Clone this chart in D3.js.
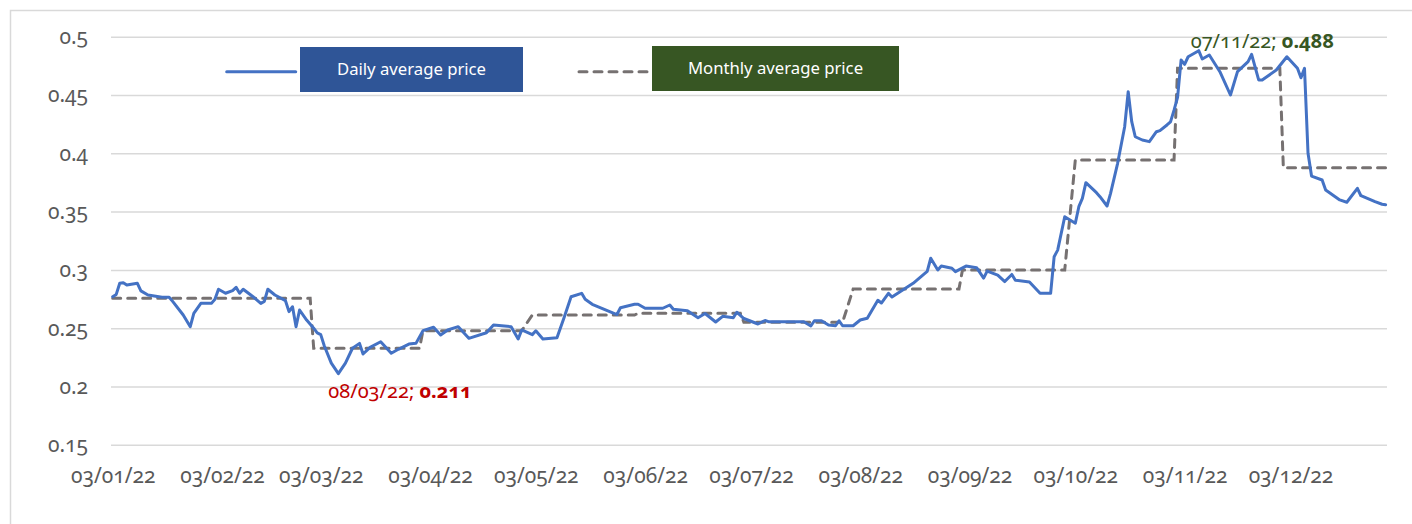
<!DOCTYPE html>
<html>
<head>
<meta charset="utf-8">
<script src="https://cdn.jsdelivr.net/npm/d3@7"></script>
<style>
  body { margin: 0; background: #fff; }
  svg text { font-family: "Noto Sans", "Open Sans", sans-serif; font-feature-settings: "onum"; }
</style>
</head>
<body>
<div id="chart"></div>
<script>
const width = 1412, height = 524;

// daily average price (dd/mm/yy)
const dailyDates = [
  '03/01/22','04/01/22','05/01/22','06/01/22','07/01/22','10/01/22','11/01/22','13/01/22','17/01/22','19/01/22',
  '20/01/22','23/01/22','25/01/22','26/01/22','28/01/22','31/01/22','01/02/22','02/02/22','04/02/22','06/02/22',
  '07/02/22','08/02/22','09/02/22','12/02/22','14/02/22','15/02/22','16/02/22','18/02/22','21/02/22','22/02/22',
  '23/02/22','24/02/22','25/02/22','27/02/22','01/03/22','02/03/22','03/03/22','04/03/22','06/03/22','08/03/22',
  '10/03/22','12/03/22','14/03/22','15/03/22','17/03/22','20/03/22','23/03/22','25/03/22','28/03/22','30/03/22',
  '01/04/22','04/04/22','06/04/22','08/04/22','11/04/22','14/04/22','19/04/22','21/04/22','26/04/22','28/04/22',
  '29/04/22','02/05/22','03/05/22','05/05/22','09/05/22','11/05/22','13/05/22','16/05/22','17/05/22','19/05/22',
  '26/05/22','27/05/22','31/05/22','01/06/22','03/06/22','08/06/22','10/06/22','11/06/22','15/06/22','18/06/22',
  '20/06/22','23/06/22','25/06/22','28/06/22','29/06/22','01/07/22','05/07/22','07/07/22','08/07/22','12/07/22',
  '18/07/22','20/07/22','21/07/22','23/07/22','25/07/22','27/07/22','28/07/22','29/07/22','01/08/22','03/08/22',
  '05/08/22','08/08/22','09/08/22','11/08/22','12/08/22','18/08/22','22/08/22','23/08/22','25/08/22','26/08/22',
  '29/08/22','30/08/22','02/09/22','05/09/22','07/09/22','08/09/22','11/09/22','13/09/22','15/09/22','16/09/22',
  '20/09/22','23/09/22','26/09/22','27/09/22','28/09/22','30/09/22','03/10/22','04/10/22','05/10/22','06/10/22',
  '09/10/22','10/10/22','12/10/22','13/10/22','15/10/22','17/10/22','18/10/22','19/10/22','20/10/22','22/10/22',
  '24/10/22','26/10/22','27/10/22','29/10/22','30/10/22','31/10/22','01/11/22','02/11/22','03/11/22','04/11/22',
  '07/11/22','08/11/22','10/11/22','13/11/22','16/11/22','18/11/22','21/11/22','22/11/22','24/11/22','25/11/22',
  '29/11/22','02/12/22','05/12/22','06/12/22','07/12/22','08/12/22','09/12/22','12/12/22','13/12/22','15/12/22',
  '17/12/22','19/12/22','22/12/22','23/12/22','27/12/22','29/12/22','30/12/22'
];
const dailyPrices = [
  0.277,0.279,0.2885,0.289,0.287,0.2885,0.282,0.2785,0.2765,0.2765,
  0.273,0.2613,0.2513,0.2628,0.2713,0.2713,0.2748,0.2834,0.280,0.2822,
  0.285,0.280,0.2834,0.2765,0.2713,0.273,0.2834,0.2785,0.2736,0.2642,
  0.2684,0.2513,0.2656,0.257,0.250,0.246,0.2445,0.235,0.220,0.211,
  0.220,0.2328,0.237,0.2279,0.2336,0.2384,0.2285,0.2319,0.2364,0.237,
  0.2479,0.2508,0.2442,0.2485,0.2513,0.2413,0.2461,0.2527,0.2513,0.2407,
  0.2485,0.2445,0.2478,0.2408,0.2419,0.259,0.277,0.2799,0.2748,0.2705,
  0.2617,0.2675,0.2705,0.2705,0.2671,0.2671,0.2699,0.2662,0.265,0.259,
  0.2626,0.2553,0.2602,0.259,0.2637,0.2583,0.2536,0.2566,0.2556,0.2555,
  0.2555,0.2519,0.2564,0.2564,0.2527,0.2521,0.2564,0.2521,0.2521,0.257,
  0.2585,0.274,0.2716,0.2799,0.2768,0.2885,0.2988,0.310,0.2999,0.3033,
  0.3014,0.2985,0.3033,0.3019,0.293,0.299,0.2956,0.290,0.2961,0.2911,
  0.2897,0.2799,0.2799,0.3113,0.317,0.3456,0.340,0.3542,0.3614,0.3748,
  0.3662,0.3628,0.3548,0.3657,0.3914,0.4228,0.4528,0.4271,0.4142,0.4114,
  0.410,0.4185,0.4194,0.4243,0.427,0.437,0.448,0.480,0.4763,0.4828,
  0.488,0.4809,0.4843,0.470,0.450,0.470,0.4786,0.4849,0.4629,0.4629,
  0.4714,0.4828,0.4729,0.4648,0.4729,0.400,0.3805,0.3771,0.3685,0.3642,
  0.360,0.358,0.370,0.3636,0.3585,0.3563,0.3559
];

// monthly average price: first and last trading day of each month
const monthStarts = ['03/01/22','01/02/22','01/03/22','01/04/22','02/05/22','01/06/22',
                     '01/07/22','01/08/22','01/09/22','03/10/22','01/11/22','01/12/22'];
const monthEnds   = ['31/01/22','28/02/22','31/03/22','29/04/22','31/05/22','30/06/22',
                     '29/07/22','31/08/22','30/09/22','31/10/22','30/11/22','30/12/22'];
const monthlyAvg  = [0.2756,0.2756,0.2327,0.2479,0.2613,0.2628,
                     0.2551,0.2836,0.2999,0.3943,0.4729,0.3877];

const xTickLabels = ['03/01/22','03/02/22','03/03/22','03/04/22','03/05/22','03/06/22',
                     '03/07/22','03/08/22','03/09/22','03/10/22','03/11/22','03/12/22'];
const yTicks = [0.15,0.2,0.25,0.3,0.35,0.4,0.45,0.5];

const legendLabels = ['Daily average price','Monthly average price'];
const minNote = {date: '08/03/22', value: 0.211};
const maxNote = {date: '07/11/22', value: 0.488};

const parse = d3.timeParse('%d/%m/%y');

const daily = dailyDates.map((d, i) => ({date: parse(d), value: dailyPrices[i]}));
const monthly = [];
monthStarts.forEach((s, i) => {
  monthly.push({date: parse(s), value: monthlyAvg[i]});
  monthly.push({date: parse(monthEnds[i]), value: monthlyAvg[i]});
});

const svg = d3.select('#chart').append('svg')
  .attr('width', width)
  .attr('height', height);

// chart area border
svg.append('rect')
  .attr('x', 10.5).attr('y', 10.5)
  .attr('width', width).attr('height', height)
  .attr('fill', 'none')
  .attr('stroke', '#d9d9d9')
  .attr('stroke-width', 1.5);

const x = d3.scaleTime()
  .domain([parse(dailyDates[0]), parse(dailyDates[dailyDates.length - 1])])
  .range([112.7, 1385.6]);
const y = d3.scaleLinear()
  .domain([0.15, 0.5])
  .range([444.8, 36.7]);

// gridlines + y labels
const yAxis = d3.axisLeft(y)
  .tickValues(yTicks)
  .tickSize(-(1387 - 111))
  .tickPadding(23)
  .tickFormat(d => String(+d.toFixed(2)));
const gy = svg.append('g')
  .attr('transform', 'translate(111,0)')
  .call(yAxis);
gy.select('.domain').remove();
gy.selectAll('.tick line')
  .attr('stroke', '#d9d9d9')
  .attr('stroke-width', 1.5);
gy.selectAll('.tick text')
  .attr('fill', '#595959')
  .attr('font-size', 21)
  .attr('dy', '0.33em');

const xAxis = d3.axisBottom(x)
  .tickValues(xTickLabels.map(parse))
  .tickSize(0)
  .tickFormat(d3.timeFormat('%d/%m/%y'));
const gx = svg.append('g')
  .attr('transform', 'translate(0,456)')
  .call(xAxis);
gx.select('.domain').remove();
gx.selectAll('.tick text')
  .attr('fill', '#595959')
  .attr('font-size', 21)
  .attr('dy', '1.16em');

// monthly average (dashed)
svg.append('path')
  .datum(monthly)
  .attr('fill', 'none')
  .attr('stroke', '#767171')
  .attr('stroke-width', 3)
  .attr('stroke-dasharray', '8,7')
  .attr('stroke-linecap', 'round')
  .attr('d', d3.line().x(d => x(d.date)).y(d => y(d.value)));

// daily average
svg.append('path')
  .datum(daily)
  .attr('fill', 'none')
  .attr('stroke', '#4472c4')
  .attr('stroke-width', 3)
  .attr('stroke-linejoin', 'round')
  .attr('stroke-linecap', 'round')
  .attr('d', d3.line().x(d => x(d.date)).y(d => y(d.value)));

// legend
const legend = [
  {label: legendLabels[0], x0: 226.7, x1: 295.7, bx: 300, bw: 223, by: 47, bh: 45,
   fill: '#2f5597', stroke: '#4472c4', dash: null},
  {label: legendLabels[1], x0: 579, x1: 649, bx: 652, bw: 247, by: 46, bh: 45,
   fill: '#375623', stroke: '#767171', dash: '8,7'},
];
legend.forEach(l => {
  svg.append('line')
    .attr('x1', l.x0).attr('x2', l.x1)
    .attr('y1', 71.7).attr('y2', 71.7)
    .attr('stroke', l.stroke)
    .attr('stroke-width', 3)
    .attr('stroke-linecap', 'round')
    .attr('stroke-dasharray', l.dash);
  svg.append('rect')
    .attr('x', l.bx).attr('y', l.by)
    .attr('width', l.bw).attr('height', l.bh)
    .attr('fill', l.fill);
  svg.append('text')
    .attr('x', l.bx + l.bw / 2)
    .attr('y', l.by + l.bh / 2)
    .attr('dy', '0.35em')
    .attr('text-anchor', 'middle')
    .attr('fill', '#fff')
    .attr('font-size', 16.7)
    .text(l.label);
});

// min / max labels
const note = (n, tx, ty, color) => {
  const t = svg.append('text')
    .attr('x', tx).attr('y', ty)
    .attr('fill', color)
    .attr('font-size', 20);
  t.append('tspan').text(n.date + '; ');
  t.append('tspan').attr('font-weight', 'bold').text(n.value.toFixed(3));
};
note(minNote, x(parse(minNote.date)) - 10, y(minNote.value) + 24, '#c00000');
note(maxNote, x(parse(maxNote.date)) - 8, y(maxNote.value) - 3, '#375623');
</script>
</body>
</html>
